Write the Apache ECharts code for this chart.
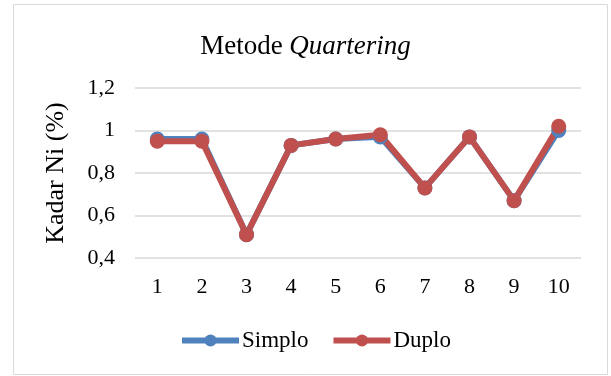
<!DOCTYPE html>
<html><head><meta charset="utf-8">
<script src="https://cdn.jsdelivr.net/npm/echarts@6/dist/echarts.min.js"></script>
<style>html,body{margin:0;padding:0;background:#fff}#c{width:611px;height:376px}</style>
</head><body><div id="c"></div>
<script>
const categories = ['1','2','3','4','5','6','7','8','9','10'];
const simplo = [0.96, 0.96, 0.51, 0.93, 0.96, 0.97, 0.73, 0.97, 0.67, 1.00];
const duplo  = [0.95, 0.95, 0.51, 0.93, 0.96, 0.98, 0.73, 0.97, 0.67, 1.02];
const yTicks = [0.4, 0.6, 0.8, 1.0, 1.2];

const font = '"Liberation Serif", "Times New Roman", serif';
const chart = echarts.init(document.getElementById('c'), null, {renderer:'canvas'});
chart.setOption({
  animation:false,
  textStyle:{fontFamily:font},
  graphic:[{type:'rect',shape:{x:13.5,y:4.5,width:594,height:370},style:{fill:'none',stroke:'#d9d9d9',lineWidth:1}}],
  title:{
    text:'{n|Metode }{i|Quartering}',
    left:'center', top:28,
    textStyle:{fontWeight:'normal',fontSize:27,rich:{
      n:{fontFamily:font,fontSize:27,fontWeight:'normal',color:'#000'},
      i:{fontFamily:font,fontSize:27,fontWeight:'normal',fontStyle:'italic',color:'#000'}
    }}
  },
  legend:{
    data:['Simplo','Duplo'], top:324, left:174,
    itemWidth:57, itemHeight:15, itemGap:22,
    lineStyle:{width:6},
    textStyle:{fontFamily:font,fontSize:23,color:'#000',padding:[0,0,0,-2]}
  },
  grid:{left:135,right:30,top:88,bottom:118},
  xAxis:{
    type:'category', data:categories, boundaryGap:true,
    axisLine:{show:false}, axisTick:{show:false},
    axisLabel:{fontFamily:font,fontSize:22,color:'#000',margin:18}
  },
  yAxis:{
    type:'value', min:0.4, max:1.2, interval:0.2,
    name:'Kadar Ni (%)', nameLocation:'middle', nameGap:66, nameRotate:90,
    nameTextStyle:{fontFamily:font,fontSize:26,color:'#000'},
    splitLine:{lineStyle:{color:'#d9d9d9',width:1.5}},
    axisLine:{show:false}, axisTick:{show:false},
    axisLabel:{fontFamily:font,fontSize:22,color:'#000',margin:20,
      formatter:v=>{const t=yTicks.find(x=>Math.abs(x-v)<1e-9);return t===undefined?'':String(+t.toFixed(1)).replace('.',',');}}
  },
  series:[
    {name:'Simplo',type:'line',data:simplo,symbol:'circle',symbolSize:15,
     lineStyle:{color:'#4f81bd',width:6},itemStyle:{color:'#4f81bd'}},
    {name:'Duplo',type:'line',data:duplo,symbol:'circle',symbolSize:15,
     lineStyle:{color:'#c0504d',width:6},itemStyle:{color:'#c0504d'}}
  ]
});
</script></body></html>
